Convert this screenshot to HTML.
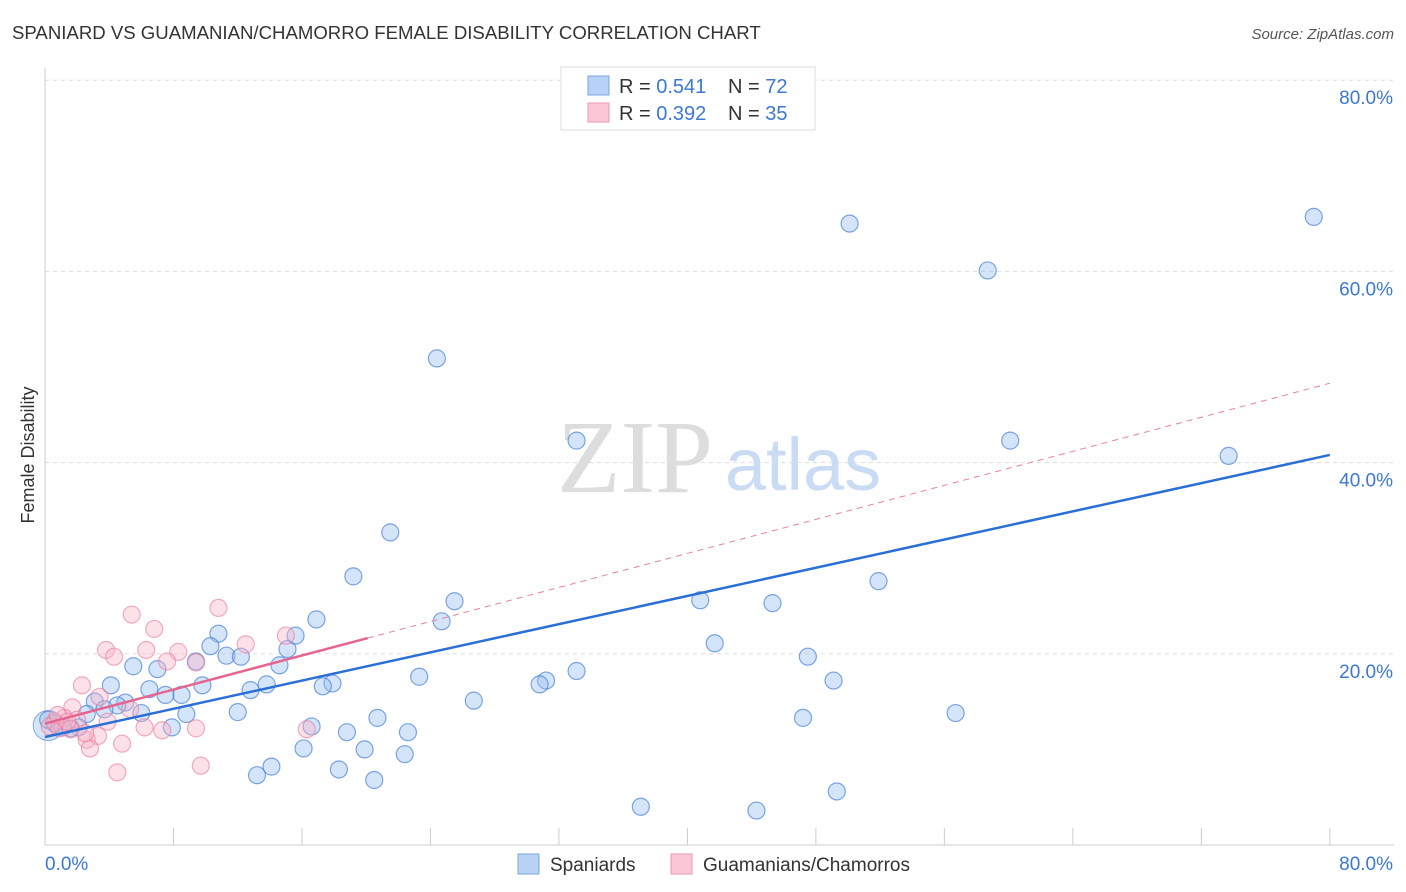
<!DOCTYPE html>
<html><head><meta charset="utf-8"><style>
body{margin:0;background:#fff;font-family:"Liberation Sans",sans-serif;}
svg{display:block}
</style></head><body>
<svg id="chart" width="1406" height="892">
<text x="12" y="39" font-size="18.6" fill="#333">SPANIARD VS GUAMANIAN/CHAMORRO FEMALE DISABILITY CORRELATION CHART</text>
<text x="1394" y="39" font-size="15" fill="#555" font-style="italic" text-anchor="end">Source: ZipAtlas.com</text>
<text x="635" y="492" font-size="104" fill="#ddd" font-family="Liberation Serif,serif" text-anchor="middle">ZIP</text>
<text x="803" y="490" font-size="74" fill="#c9dcf3" text-anchor="middle">atlas</text>
<g id="grid"></g><g id="axes"></g>
<text transform="translate(34,455) rotate(-90)" font-size="18" fill="#333" text-anchor="middle">Female Disability</text>
<g id="marks"></g>
<g>
<rect x="561" y="67" width="254" height="63" fill="#fff" stroke="#ddd"/>
<rect x="588" y="76" width="21" height="19" fill="#b8d3f5" stroke="#7aa6e3"/>
<rect x="588" y="103" width="21" height="19" fill="#fbc6d5" stroke="#ef9ab5"/>
<text x="619" y="93" font-size="20" fill="#333">R = <tspan fill="#3b78d6">0.541</tspan><tspan x="728">N = </tspan><tspan fill="#3b78d6">72</tspan></text>
<text x="619" y="120" font-size="20" fill="#333">R = <tspan fill="#3b78d6">0.392</tspan><tspan x="728">N = </tspan><tspan fill="#3b78d6">35</tspan></text>
</g>
<g>
<rect x="518" y="854" width="21" height="20" fill="#b8d3f5" stroke="#7aa6e3"/>
<text x="550" y="871" font-size="19" fill="#333">Spaniards</text>
<rect x="671" y="854" width="21" height="20" fill="#fbc6d5" stroke="#ef9ab5"/>
<text x="703" y="871" font-size="19" fill="#333">Guamanians/Chamorros</text>
</g>
</svg>
<script>
const yTicks=[20,40,60,80];
const yTickLabels=["20.0%","40.0%","60.0%","80.0%"];
const xTicks=[0,8,16,24,32,40,48,56,64,72,80];
const blueX=[24.4,50.1,58.7,79.0,60.1,73.7,33.1,21.5,19.2,25.5,16.9,24.7,40.8,45.3,51.9,41.7,47.5,49.1,33.1,31.2,30.8,26.7,23.3,17.9,17.3,14.6,15.1,15.6,10.8,10.3,11.3,12.2,9.4,7.0,5.5,4.1,6.5,7.5,8.5,9.8,12.8,13.8,12.0,8.8,6.0,5.0,4.5,3.1,3.7,2.6,7.9,16.6,18.8,20.7,22.6,19.9,22.4,16.1,18.3,14.1,13.2,20.5,37.1,44.3,49.3,47.2,56.7,2.1,1.6,0.6,0.2,1.1];
const blueY=[50.9,65.0,60.1,65.7,42.3,40.7,42.3,32.7,28.1,25.5,23.6,23.4,25.6,25.3,27.6,21.1,19.7,17.2,18.2,17.2,16.8,15.1,17.6,16.9,16.6,18.8,20.5,21.9,22.1,20.8,19.8,19.7,19.2,18.4,18.7,16.7,16.3,15.7,15.7,16.7,16.2,16.8,13.9,13.7,13.8,14.9,14.6,15.0,14.2,13.7,12.3,12.4,11.8,13.3,11.8,10.0,9.5,10.1,7.9,8.2,7.3,6.8,4.0,3.6,5.6,13.3,13.8,12.3,12.2,12.7,13.1,12.3];
const pinkX=[5.4,10.8,6.8,3.8,4.3,6.3,8.3,7.6,12.5,15.0,9.4,2.3,3.4,5.3,3.9,6.2,7.3,9.4,16.3,2.6,3.3,2.8,4.8,4.5,9.7,1.7,1.2,2.0,0.6,0.3,0.9,1.6,2.5,0.8,1.4];
const pinkY=[24.1,24.8,22.6,20.4,19.7,20.4,20.2,19.2,21.0,21.9,19.1,16.7,15.5,14.2,12.9,12.3,12.0,12.2,12.1,11.0,11.4,10.1,10.6,7.6,8.3,14.4,13.3,13.1,12.9,12.4,12.2,12.1,11.7,13.6,12.9];
const blueTrend=[11.3,40.8];
const pinkTrend=[12.7,48.3];
const pinkSolidEnd=20.1;
const NS="http://www.w3.org/2000/svg";
const X=v=>45+v*16.06, Y=v=>845-v*9.56;
function mk(tag,attrs,parent){const e=document.createElementNS(NS,tag);for(const k in attrs)e.setAttribute(k,attrs[k]);document.getElementById(parent).appendChild(e);return e;}
yTicks.forEach((t,i)=>{
 const g=mk('line',{x1:45,x2:1394,y1:Y(t),y2:Y(t),stroke:'#ddd','stroke-dasharray':'4,4'},'grid');
 
 
 const l=mk('text',{x:1393,y:Y(t)+24,'font-size':19,fill:'#3b78d6','text-anchor':'end'},'axes');
 l.textContent=yTickLabels[i];
 
 
});
const ax=mk('line',{x1:45,x2:1394,y1:845,y2:845,stroke:'#ccc'},'axes');


const ay=mk('line',{x1:45,x2:45,y1:68,y2:845,stroke:'#ccc'},'axes');


xTicks.forEach(t=>{const tk=mk('line',{x1:X(t),x2:X(t),y1:828,y2:845,stroke:'#ccc'},'axes');
 
 });
const x0=mk('text',{x:45,y:870,'font-size':19,fill:'#3b78d6'},'axes');x0.textContent='0.0%';


const x1=mk('text',{x:1393,y:870,'font-size':19,fill:'#3b78d6','text-anchor':'end'},'axes');x1.textContent='80.0%';


const big=mk('circle',{cx:X(0.2),cy:Y(12.5),r:15,fill:'rgba(150,190,240,0.4)',stroke:'rgba(60,120,210,0.6)'},'marks');


blueX.forEach((v,i)=>{const c=mk('circle',{cx:X(v),cy:Y(blueY[i]),r:8.5,fill:'rgba(150,190,240,0.4)',stroke:'rgba(60,120,210,0.65)','stroke-width':1.2},'marks');
 
 });
pinkX.forEach((v,i)=>{const c=mk('circle',{cx:X(v),cy:Y(pinkY[i]),r:8.5,fill:'rgba(248,180,200,0.4)',stroke:'rgba(235,120,155,0.6)','stroke-width':1.2},'marks');
 
 });
const pAt=v=>pinkTrend[0]+(pinkTrend[1]-pinkTrend[0])*v/80;
const pd=mk('line',{x1:X(pinkSolidEnd),y1:Y(pAt(pinkSolidEnd)),x2:X(80),y2:Y(pinkTrend[1]),stroke:'#e8809f','stroke-width':1,'stroke-dasharray':'6,5'},'marks');


const bl=mk('line',{x1:X(0),y1:Y(blueTrend[0]),x2:X(80),y2:Y(blueTrend[1]),stroke:'#2a6fd6','stroke-width':2.5},'marks');


const pl=mk('line',{x1:X(0),y1:Y(pinkTrend[0]),x2:X(pinkSolidEnd),y2:Y(pAt(pinkSolidEnd)),stroke:'#e6658f','stroke-width':2.5},'marks');


</script>
</body></html>
